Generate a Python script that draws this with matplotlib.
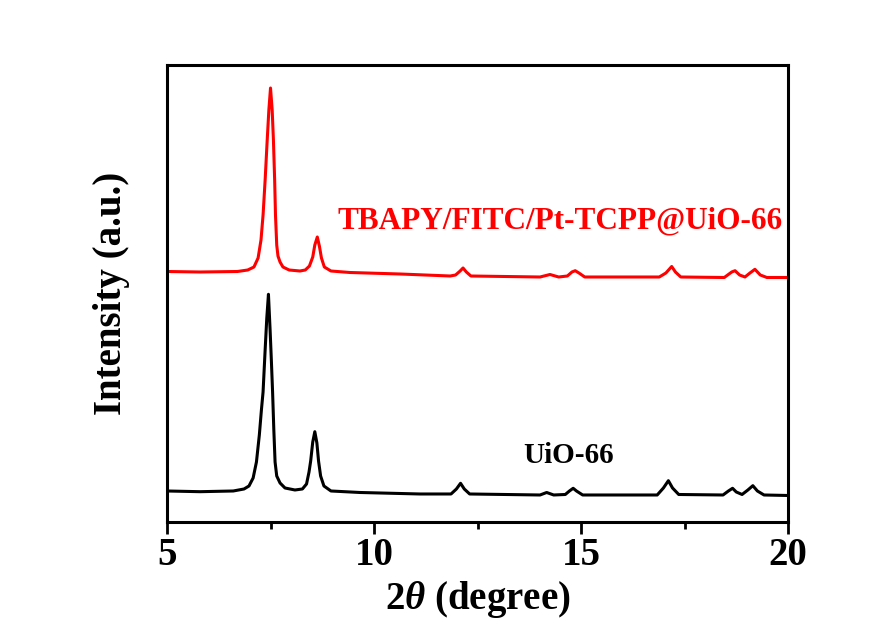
import matplotlib
matplotlib.use("Agg")
import matplotlib.pyplot as plt
from matplotlib.ticker import MultipleLocator

plt.rcParams['font.family'] = 'Liberation Serif'
plt.rcParams['font.weight'] = 'bold'
plt.rcParams['mathtext.fontset'] = 'custom'
plt.rcParams['mathtext.it'] = 'Liberation Serif:italic:bold'
plt.rcParams['mathtext.rm'] = 'Liberation Serif:bold'

# TBAPY/FITC/Pt-TCPP@UiO-66 pattern (offset)
red_2theta = [5.00, 5.80, 6.70, 6.95, 7.10, 7.20, 7.27, 7.32, 7.37, 7.42, 7.46, 7.50,
              7.54, 7.57, 7.60, 7.62, 7.65, 7.68, 7.73, 7.80, 7.95, 8.21, 8.34, 8.44,
              8.52, 8.57, 8.63, 8.68, 8.73, 8.80, 8.96, 9.42, 10.63, 11.84, 11.97, 12.08,
              12.15, 12.23, 12.34, 14.01, 14.25, 14.46, 14.67, 14.78, 14.86, 14.95, 15.09,
              16.89, 17.05, 17.19, 17.28, 17.41, 18.46, 18.64, 18.72, 18.83, 18.96, 19.08,
              19.20, 19.33, 19.49, 20.00]
red_int = [250.5, 250, 250.5, 252, 255, 264, 282, 307, 342, 382, 412, 434,
           412, 382, 342, 307, 277, 266, 260, 255, 252, 251, 252, 256,
           265, 277, 285, 276, 264, 255, 251, 249.5, 248, 246, 247, 251,
           254, 250, 246, 245, 247.5, 245, 246, 250, 251.3, 249, 245,
           245, 249, 255.5, 250, 245, 244.5, 250, 251.3, 247, 245, 249,
           252.7, 247, 244.5, 244.5]

# UiO-66 pattern
black_2theta = [5.00, 5.80, 6.60, 6.86, 6.98, 7.08, 7.16, 7.23, 7.28, 7.32, 7.37, 7.41,
                7.45, 7.49, 7.52, 7.55, 7.58, 7.61, 7.65, 7.73, 7.85, 8.09, 8.27, 8.37,
                8.43, 8.47, 8.52, 8.57, 8.62, 8.66, 8.71, 8.79, 8.96, 9.66, 11.11, 11.86,
                11.99, 12.09, 12.18, 12.31, 14.01, 14.17, 14.34, 14.62, 14.72, 14.81, 14.89,
                15.04, 16.84, 16.99, 17.11, 17.21, 17.36, 18.43, 18.56, 18.66, 18.75, 18.89,
                19.03, 19.15, 19.26, 19.42, 20.00]
black_int = [31, 30.3, 31, 33, 36, 44, 60, 87, 112, 130, 172, 204,
             227.7, 192, 162, 130, 92, 60, 46, 39, 34, 32, 33, 38,
             50, 61, 80, 90.3, 79, 61, 46, 36, 31, 29.5, 28, 28,
             33, 38.7, 33, 28, 27, 29.5, 27, 27.5, 31, 33.7, 31,
             27, 27, 34, 41.3, 34, 27.5, 27, 31, 33.7, 30, 27.5,
             32, 36.3, 31, 27, 26.5]

red_label = 'TBAPY/FITC/Pt-TCPP@UiO-66'
black_label = 'UiO-66'

fig = plt.figure(figsize=(8.96, 6.43), dpi=100)
ax = fig.add_axes([0.1864, 0.1882, 0.6931, 0.7107])

ax.plot(red_2theta, red_int, color='#ff0000', lw=2.2)
ax.plot(black_2theta, black_int, color='black', lw=2.2)

ax.text(9.11, 294, red_label, color='#ff0000', fontsize=22.5, fontweight='bold',
        ha='left', va='baseline')
ax.text(13.6, 59.3, black_label, color='black', fontsize=21, fontweight='bold',
        ha='left', va='baseline')

ax.set_xlim(5, 20)
ax.set_ylim(0, 457)
ax.xaxis.set_major_locator(MultipleLocator(5))
ax.xaxis.set_minor_locator(MultipleLocator(2.5))
ax.set_yticks([])
ax.tick_params(axis='x', which='major', direction='out', length=8.5, width=2,
               labelsize=28, pad=2)
ax.tick_params(axis='x', which='minor', direction='out', length=5, width=2)
for s in ax.spines.values():
    s.set_linewidth(2.2)

ax.set_xlabel('2$\\theta$ (degree)', fontsize=28, fontweight='bold')
ax.set_ylabel('Intensity (a.u.)', fontsize=28, fontweight='bold')
ax.xaxis.set_label_coords(0.5, -0.125)
ax.yaxis.set_label_coords(-0.06, 0.5)

fig.savefig('out.png', dpi=100)
